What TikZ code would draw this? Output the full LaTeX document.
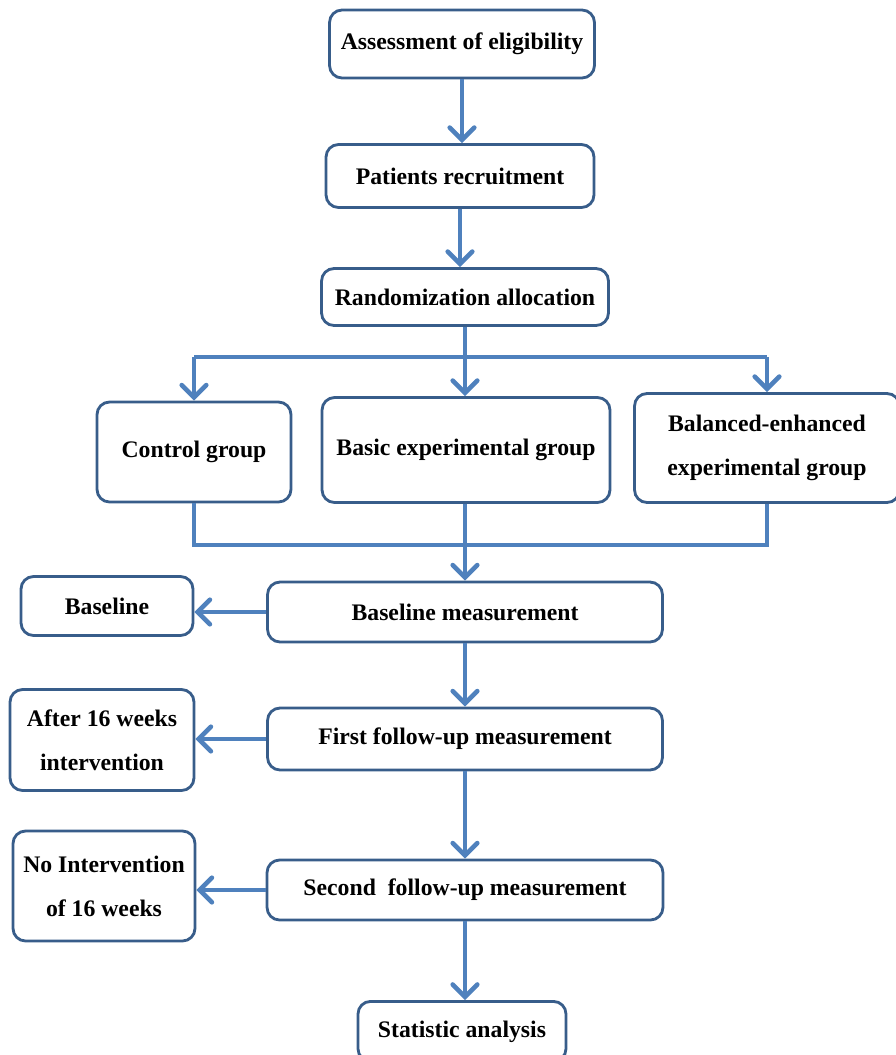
\documentclass[tikz,border=0pt]{standalone}
\usepackage{fontspec}
\setmainfont{Liberation Serif}
\usepackage{tikz}
\usetikzlibrary{positioning, arrows.meta, calc}

\definecolor{flowblue}{RGB}{79,129,189}
\definecolor{boxblue}{RGB}{56,93,138}

\begin{document}
\begin{tikzpicture}[x=0.02cm, y=-0.02cm]
    \tikzset{
        stage/.style={
                draw=boxblue, line width=1.6pt, rounded corners=0.25cm, fill=white,
                font=\fontsize{13.5}{25}\selectfont\bfseries, align=center, inner sep=0pt
            },
        flow/.style={
                draw=flowblue, line width=2.6pt,
                -{Straight Barb[length=7pt, width=14pt, line cap=round]}
            },
        link/.style={draw=flowblue, line width=2.6pt}
    }
    \useasboundingbox (0,0) rectangle (896,1055);

    % main column
    \node[stage, minimum width=5.3cm, minimum height=1.36cm] (assess) at (462,44) {Assessment of eligibility};
    \node[stage, minimum width=5.36cm, minimum height=1.26cm] (recruit) at (460,176) {Patients recruitment};
    \node[stage, minimum width=5.74cm, minimum height=1.14cm] (random) at (465,297) {Randomization allocation};

    % groups
    \node[stage, minimum width=3.88cm, minimum height=2.0cm] (control) at (194,452) {Control group};
    \node[stage, minimum width=5.76cm, minimum height=2.1cm] (basic) at (466,450) {Basic experimental group};
    \node[stage, minimum width=5.3cm, minimum height=2.18cm] (balanced) at (767,448) {Balanced-enhanced\\experimental group};

    % measurements
    \node[stage, minimum width=7.9cm, minimum height=1.2cm] (basem) at (465,612) {Baseline measurement};
    \node[stage, minimum width=7.9cm, minimum height=1.24cm] (firstm) at (465,739) {First follow-up measurement};
    \node[stage, minimum width=7.92cm, minimum height=1.2cm] (secondm) at (465,890) {Second~ follow-up measurement};
    \node[stage, minimum width=4.16cm, minimum height=1.2cm, anchor=north] (stats) at (462,1000) {Statistic analysis};

    % time points
    \node[stage, minimum width=3.44cm, minimum height=1.18cm] (baseline) at (107,606) {Baseline};
    \node[stage, minimum width=3.68cm, minimum height=2.02cm] (after) at (102,740) {After 16 weeks\\intervention};
    \node[stage, minimum width=3.64cm, minimum height=2.2cm] (noint) at (104,886) {No Intervention\\of 16 weeks};

    \draw[flow] (assess.south) -- (assess.south |- recruit.north);
    \draw[flow] (recruit.south) -- (recruit.south |- random.north);

    % split into the three groups
    \coordinate (split) at (random.south |- 0,357);
    \draw[link] (random.south) -- (split);
    \draw[link] (control.north |- split) -- (balanced.north |- split);
    \draw[flow] (control.north |- split) -- (control.north);
    \draw[flow] (split) -- (split |- basic.north);
    \draw[flow] (balanced.north |- split) -- (balanced.north);

    % join again
    \coordinate (join) at (basem.north |- 0,545);
    \draw[link] (control.south) -- (control.south |- join) -- (balanced.south |- join) -- (balanced.south);
    \draw[link] (join |- basic.south) -- (join);
    \draw[flow] (join) -- (basem.north);

    \draw[flow] (basem) -- (firstm);
    \draw[flow] (firstm) -- (secondm);
    \draw[flow] (secondm.south) -- (secondm.south |- stats.north);

    \draw[flow] (basem.west) -- (basem.west -| baseline.east);
    \draw[flow] (firstm.west) -- (firstm.west -| after.east);
    \draw[flow] (secondm.west) -- (secondm.west -| noint.east);
\end{tikzpicture}
\end{document}
